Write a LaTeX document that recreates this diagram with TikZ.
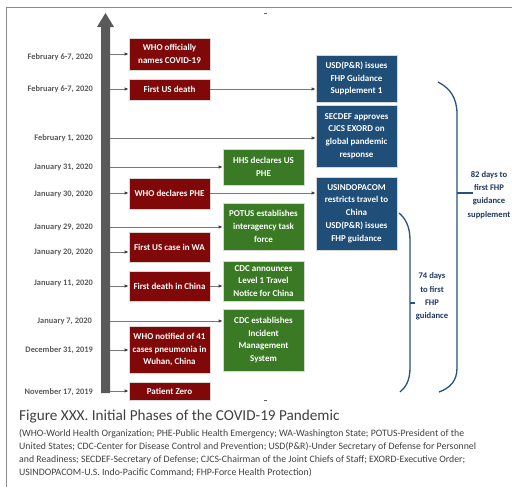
\documentclass[tikz,border=0pt]{standalone}
\usepackage{fontspec}
\setmainfont{Carlito}
\usetikzlibrary{arrows.meta}
\definecolor{boxred}{RGB}{128,8,8}
\definecolor{boxgreen}{RGB}{58,122,36}
\definecolor{boxblue}{RGB}{31,78,121}
\definecolor{boxedge}{RGB}{215,215,215}
\definecolor{datecol}{RGB}{90,90,90}
\definecolor{shaftcol}{RGB}{89,89,89}
\definecolor{conncol}{RGB}{120,120,120}
\definecolor{bracecol}{RGB}{40,80,130}
\definecolor{bracetext}{RGB}{31,56,100}
\definecolor{capcol}{RGB}{64,64,64}
\tikzset{
  evbox/.style={draw=boxedge, line width=0.8pt, text=white, align=center,
    font=\fontsize{9}{12.8}\selectfont\bfseries, inner sep=1pt,
    minimum width=81pt, anchor=center},
  redbox/.style={evbox, fill=boxred},
  greenbox/.style={evbox, fill=boxgreen},
  bluebox/.style={evbox, fill=boxblue},
  datelab/.style={anchor=east, text=datecol, font=\fontsize{8.4}{10}\selectfont\bfseries, inner sep=0pt},
  conn/.style={draw=conncol, line width=0.9pt, -{Latex[length=4pt,width=3.6pt,color=black!75]}},
  bracepath/.style={draw=bracecol, line width=1.3pt},
  bracelab/.style={text=bracetext, align=center, font=\fontsize{8.6}{13.3}\selectfont\bfseries, inner sep=0pt},
  notelab/.style={anchor=west, text=capcol, font=\fontsize{9.8}{11}\selectfont, inner sep=0pt}
}
\begin{document}
\begin{tikzpicture}[x=1pt,y=-1pt]
\useasboundingbox (0,0) rectangle (512,493);
\clip (0,0) rectangle (512,493);
\fill[white] (0,0) rectangle (512,493);
% frame
\draw[draw=black!45, line width=0.8pt] (6,487) -- (6,7) -- (512,7);
% handle marks
\draw[draw=black!60, line width=0.8pt] (263.5,13.5) -- (266.5,13.5);
\draw[draw=black!60, line width=0.8pt] (263.5,400) -- (266.5,400);
% main timeline arrow
\fill[shaftcol] (101,393) -- (101,27) -- (97,27) -- (105.5,13) -- (114,27) -- (110,27) -- (110,393) -- cycle;

% red boxes
\node[redbox, minimum height=32pt] (r1) at (169.5,54) {WHO officially\\names COVID-19};
\node[redbox, minimum height=21pt] (r2) at (169.5,89.5) {First US death};
\node[redbox, minimum height=31pt] (r3) at (169.5,193.5) {WHO declares PHE};
\node[redbox, minimum height=30pt] (r4) at (169.5,247) {First US case in WA};
\node[redbox, minimum height=30pt] (r5) at (169.5,286) {First death in China};
\node[redbox, minimum height=47pt] (r6) at (169.5,349.5) {WHO notified of 41\\cases pneumonia in\\Wuhan, China};
\node[redbox, minimum height=18pt] (r7) at (169.5,391) {Patient Zero};

% green boxes
\node[greenbox, minimum height=36pt] (g1) at (263.5,167) {HHS declares US\\PHE};
\node[greenbox, minimum height=47pt] (g2) at (263.5,226.5) {POTUS establishes\\interagency task\\force};
\node[greenbox, minimum height=40pt] (g3) at (263.5,281) {CDC announces\\Level 1 Travel\\Notice for China};
\node[greenbox, minimum height=62pt] (g4) at (263.5,340) {CDC establishes\\Incident\\Management\\System};

% blue boxes
\node[bluebox, minimum height=47pt] (b1) at (356.5,78.5) {USD(P\&R) issues\\FHP Guidance\\Supplement 1};
\node[bluebox, minimum height=62pt] (b2) at (356.5,136) {SECDEF approves\\CJCS EXORD on\\global pandemic\\response};
\node[bluebox, minimum height=73pt] (b3) at (356.5,213.5) {USINDOPACOM\\restricts travel to\\China\\USD(P\&R) issues\\FHP guidance};

% dates
\node[datelab] (d1) at (93,57) {February 6-7, 2020};
\node[datelab] (d2) at (93,89) {February 6-7, 2020};
\node[datelab] (d3) at (93,138) {February 1, 2020};
\node[datelab] (d4) at (93,167) {January 31, 2020};
\node[datelab] (d5) at (93,194) {January 30, 2020};
\node[datelab] (d6) at (93,227) {January 29, 2020};
\node[datelab] (d7) at (93,252) {January 20, 2020};
\node[datelab] (d8) at (93,283) {January 11, 2020};
\node[datelab] (d9) at (92,321) {January 7, 2020};
\node[datelab] (d10) at (93,350) {December 31, 2019};
\node[datelab] (d11) at (93,392) {November 17, 2019};

% shaft coordinates
\coordinate (s1) at (110,54);
\coordinate (s2) at (110,89);
\coordinate (s3) at (110,138);
\coordinate (s4) at (110,167);
\coordinate (s5) at (110,193);
\coordinate (s6) at (110,227);
\coordinate (s7) at (110,252);
\coordinate (s8) at (110,286);
\coordinate (s9) at (110,321);
\coordinate (s10) at (110,350);
\coordinate (s11) at (110,391);

% connectors
\draw[conn] (s1) -- (s1 -| r1.west);
\draw[conn] (s2) -- (s2 -| r2.west);
\draw[conn] (s3) -- (s3 -| b2.west);
\draw[conn] (s4) -- (s4 -| g1.west);
\draw[conn] (s5) -- (s5 -| r3.west);
\draw[conn] (s6) -- (s6 -| g2.west);
\draw[conn] (s7) -- (s7 -| r4.west);
\draw[conn] (s8) -- (s8 -| r5.west);
\draw[conn] (s9) -- (s9 -| g4.west);
\draw[conn] (s10) -- (s10 -| r6.west);
\draw[conn] (s11) -- (s11 -| r7.west);
\draw[conn] (s2 -| r2.east) -- (s2 -| b1.west);
\draw[conn] (s5 -| r3.east) -- (s5 -| b3.west);
\draw[conn] (s8 -| r5.east) -- (s8 -| g3.west);

% braces
\draw[bracepath] (438,82) .. controls (450,88) and (457,98) .. (457,114) -- (457,368) .. controls (457,381) and (450,388) .. (439,392);
\draw[bracepath] (457,193) -- (473,193);
\draw[bracepath] (399,213) .. controls (405,218) and (410,226) .. (410,240) -- (410,368) .. controls (410,380) and (406,387) .. (400,392);
\draw[bracepath] (410,303) -- (415,303);
\node[bracelab] (t82) at (489,195) {82 days to\\first FHP\\guidance\\supplement};
\node[bracelab] (t74) at (432,296.5) {74 days\\to first\\FHP\\guidance};

% caption
\node[anchor=west, text=capcol, font=\fontsize{15.2}{17}\selectfont, inner sep=0pt] (cap) at (19,417) {Figure XXX. Initial Phases of the COVID-19 Pandemic};
\node[notelab] (n1) at (19,433.5) {(WHO-World Health Organization; PHE-Public Health Emergency; WA-Washington State; POTUS-President of the};
\node[notelab] (n2) at (19,446.5) {United States; CDC-Center for Disease Control and Prevention; USD(P\&R)-Under Secretary of Defense for Personnel};
\node[notelab] (n3) at (19,459.5) {and Readiness; SECDEF-Secretary of Defense; CJCS-Chairman of the Joint Chiefs of Staff; EXORD-Executive Order;};
\node[notelab] (n4) at (19,472.5) {USINDOPACOM-U.S. Indo-Pacific Command; FHP-Force Health Protection)};
\end{tikzpicture}
\end{document}
